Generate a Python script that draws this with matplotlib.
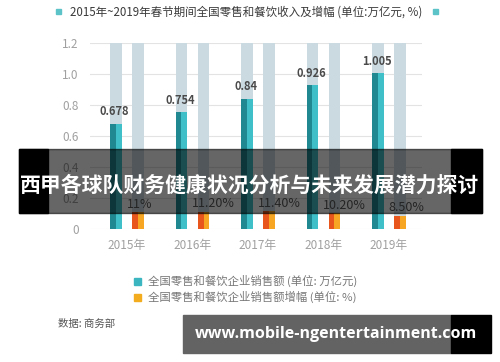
import matplotlib
matplotlib.use('Agg')
import matplotlib.pyplot as plt
from matplotlib.patches import Rectangle
import numpy as np

plt.rcParams['font.family'] = ['Noto Sans CJK SC', 'DejaVu Sans']

years = ['2015年', '2016年', '2017年', '2018年', '2019年']
sales = [0.678, 0.754, 0.84, 0.926, 1.005]          # 万亿元
growth = [11, 11.2, 11.4, 10.2, 8.5]                 # %
growth_labels = ['11%', '11.20%', '11.40%', '10.20%', '8.50%']
yticks = [0, 0.2, 0.4, 0.6, 0.8, 1.0, 1.2]
ytick_labels = ['0', '0.2', '0.4', '0.6', '0.8', '1.0', '1.2']

title = '2015年~2019年春节期间全国零售和餐饮收入及增幅 (单位:万亿元, %)'
legend_labels = ['全国零售和餐饮企业销售额 (单位: 万亿元)',
                 '全国零售和餐饮企业销售额增幅 (单位: %)']
source = '数据: 商务部'
banner = '西甲各球队财务健康状况分析与未来发展潜力探讨'
url = 'www.mobile-ngentertainment.com'

teal_dark, teal_light = '#1f8891', '#3fc0c8'
orange_dark, orange_light = '#e9561d', '#f6a623'
back_col = '#cbdae1'

fig = plt.figure(figsize=(5, 3.62), dpi=100)
ax = fig.add_axes([0.18, 0.3674, 0.664, 0.5138])

x = np.arange(len(years))
off = 0.168
w = 0.18
growth_v = [g / 100 for g in growth]

# background full-height bars
ax.bar(x - off, [1.2] * len(x), w, color=back_col, zorder=1)
ax.bar(x + off, [1.2] * len(x), w, color=back_col, zorder=1)
# two-tone bars
ax.bar(x - off - w / 4, sales, w / 2, color=teal_dark, zorder=2)
ax.bar(x - off + w / 4, sales, w / 2, color=teal_light, zorder=2)
ax.bar(x + off - w / 4, growth_v, w / 2, color=orange_dark, zorder=2)
ax.bar(x + off + w / 4, growth_v, w / 2, color=orange_light, zorder=2)

for i in range(len(x)):
    ax.annotate(f'{sales[i]:g}', (x[i] - off, sales[i]), xytext=(-1, 4),
                textcoords='offset points', ha='center', va='bottom',
                fontsize=8, color='#4a4a4a', fontweight='bold')
    ax.annotate(growth_labels[i], (x[i] + off - w / 2, growth_v[i]), xytext=(-4, 1),
                textcoords='offset points', ha='left', va='bottom',
                fontsize=9, color='#5a5a5a')

ax.set_xlim(-0.565, 4.504)
ax.set_ylim(0, 1.2)
ax.set_yticks(yticks)
ax.set_yticklabels(ytick_labels)
ax.set_xticks(x)
ax.set_xticklabels(years)
ax.tick_params(length=0, colors='#a0a0a0', labelsize=8.5)
ax.tick_params(axis='y', pad=8)
ax.tick_params(axis='x', pad=7)
ax.grid(axis='y', color='#e3e3e3', linewidth=0.8, zorder=0)
ax.set_axisbelow(True)
for s in ax.spines.values():
    s.set_visible(False)

def px(x0, y0, x1, y1):
    # pixel box (from top-left) to figure coords
    return (x0 / 500, 1 - y1 / 362), (x1 - x0) / 500, (y1 - y0) / 362

# title with small squares
fig.text(246 / 500, 1 - 12 / 362, title, ha='center', va='center', fontsize=8.3, color='#3a3a3a')
for xs in (55.5, 432.5):
    xy, ww, hh = px(xs, 9, xs + 5, 14)
    fig.add_artist(Rectangle(xy, ww, hh, transform=fig.transFigure, color='#5cc3c8'))

# legend
for k, (lab, col) in enumerate(zip(legend_labels, ['#3bb5c0', '#f2ac1e'])):
    yc = 281 + 16 * k
    xy, ww, hh = px(134, yc - 3.5, 141, yc + 3.5)
    fig.add_artist(Rectangle(xy, ww, hh, transform=fig.transFigure, color=col))
    fig.text(148 / 500, 1 - yc / 362, lab, ha='left', va='center', fontsize=8.2, color='#777777')

fig.text(58 / 500, 1 - 324 / 362, source, ha='left', va='center', fontsize=7.5, color='#555555')

# overlay banner
xy, ww, hh = px(19, 149, 482, 213)
fig.add_artist(Rectangle(xy, ww, hh, transform=fig.transFigure, color='black', alpha=0.6, zorder=5))
for a, b in ((19, 48), (451, 482)):
    xy, ww, hh = px(a, 149, b, 213)
    fig.add_artist(Rectangle(xy, ww, hh, transform=fig.transFigure, color='black', zorder=5))
fig.text(250 / 500, 1 - 185 / 362, banner, ha='center', va='center', fontsize=15,
         color='white', fontweight='bold', zorder=6)

# url banner
xy, ww, hh = px(183, 315, 451, 353)
fig.add_artist(Rectangle(xy, ww, hh, transform=fig.transFigure, color='#636363', zorder=5))
xy, ww, hh = px(451, 315, 491, 353)
fig.add_artist(Rectangle(xy, ww, hh, transform=fig.transFigure, color='black', zorder=5))
fig.text(336 / 500, 1 - 334 / 362, url, ha='center', va='center', fontsize=11.5,
         color='white', fontweight='bold', family='Open Sans', zorder=6)

fig.savefig('out.png', dpi=100)
